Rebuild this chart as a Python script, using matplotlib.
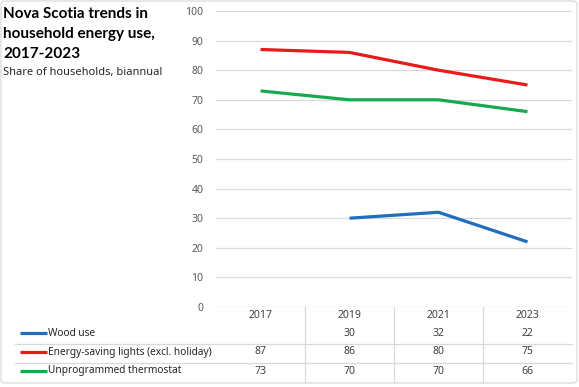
import matplotlib
matplotlib.use("Agg")
import matplotlib.pyplot as plt
import numpy as np
from matplotlib.patches import FancyBboxPatch
from matplotlib.lines import Line2D
import matplotlib.transforms as mtransforms

years = ["2017", "2019", "2021", "2023"]
series_names = ["Wood use", "Energy-saving lights (excl. holiday)", "Unprogrammed thermostat"]
wood = [np.nan, 30, 32, 22]
lights = [87, 86, 80, 75]
thermostat = [73, 70, 70, 66]
series_values = [wood, lights, thermostat]
colors = ["#1F6EBF", "#E81A1A", "#18A84E"]
yticks = [0, 10, 20, 30, 40, 50, 60, 70, 80, 90, 100]

W, H = 579, 387
plt.rcParams['font.family'] = ['Noto Sans', 'DejaVu Sans']
fig = plt.figure(figsize=(W / 100, H / 100), dpi=100)

def fx(px):
    return px / W

def fy(py):
    return 1 - py / H

ax_left, ax_right, ax_top, ax_bottom = 216, 572, 11, 307
ax = fig.add_axes([fx(ax_left), fy(ax_bottom), (ax_right - ax_left) / W, (ax_bottom - ax_top) / H])

x = np.arange(len(years))
for vals, c in zip(series_values, colors):
    ax.plot(x, vals, color=c, linewidth=2.3, solid_capstyle='butt')

ax.set_xlim(-0.5, len(years) - 0.5)
ax.set_ylim(0, 100)
ax.set_yticks(yticks)
ax.set_yticklabels([str(v) for v in yticks], fontsize=7.5, color="#595959")
ax.tick_params(axis='y', length=0, pad=9)
ax.set_xticks([])
for s in ax.spines.values():
    s.set_visible(False)
ax.grid(axis='y', color="#D9D9D9", linewidth=0.9)
ax.set_axisbelow(True)

# Data table
def ay(py):
    return (ax_bottom - py) / (ax_bottom - ax_top)

trans = mtransforms.blended_transform_factory(ax.transData, ax.transAxes)
row_y = [333, 352, 371]
for i, yr in enumerate(years):
    ax.text(x[i], ay(316), yr, transform=trans, ha='center', va='center',
            fontsize=7.5, color="#404040", clip_on=False)
for r, vals in enumerate(series_values):
    for i, v in enumerate(vals):
        if not np.isnan(v):
            ax.text(x[i], ay(row_y[r]), f"{v:g}", transform=trans, ha='center', va='center',
                    fontsize=7.5, color="#404040", clip_on=False)
# vertical separators between columns
for i in range(len(years) - 1):
    ax.add_line(Line2D([x[i] + 0.5, x[i] + 0.5], [0, ay(382)], transform=trans,
                       color="#D9D9D9", linewidth=0.9, clip_on=False))
# horizontal row separators (full width)
for py in [344, 363]:
    fig.add_artist(Line2D([fx(15), fx(572)], [fy(py), fy(py)], color="#D9D9D9", linewidth=0.9))

# legend keys in table
for r, (name, c) in enumerate(zip(series_names, colors)):
    fig.add_artist(Line2D([fx(20), fx(47)], [fy(row_y[r]), fy(row_y[r])], color=c, linewidth=2.3,
                          solid_capstyle='butt'))
    fig.text(fx(48), fy(row_y[r]), name, ha='left', va='center', fontsize=7.3, color="#262626")

# Title & subtitle
fig.text(fx(3), fy(7), "Nova Scotia trends in\nhousehold energy use,\n2017-2023", ha='left', va='top',
         fontsize=11, fontweight='bold', color="#000000", linespacing=1.55,
         family=['Lato', 'DejaVu Sans'])
fig.text(fx(3), fy(72), "Share of households, biannual", ha='left', va='center',
         fontsize=8, color="#262626")

# border
fig.add_artist(FancyBboxPatch((fx(1), fy(383)), fx(576), (382) / H,
                              boxstyle="round,pad=0,rounding_size=0.008",
                              transform=fig.transFigure, fill=False, edgecolor="#D9D9D9", linewidth=0.9))

fig.savefig("out.png", dpi=100)
